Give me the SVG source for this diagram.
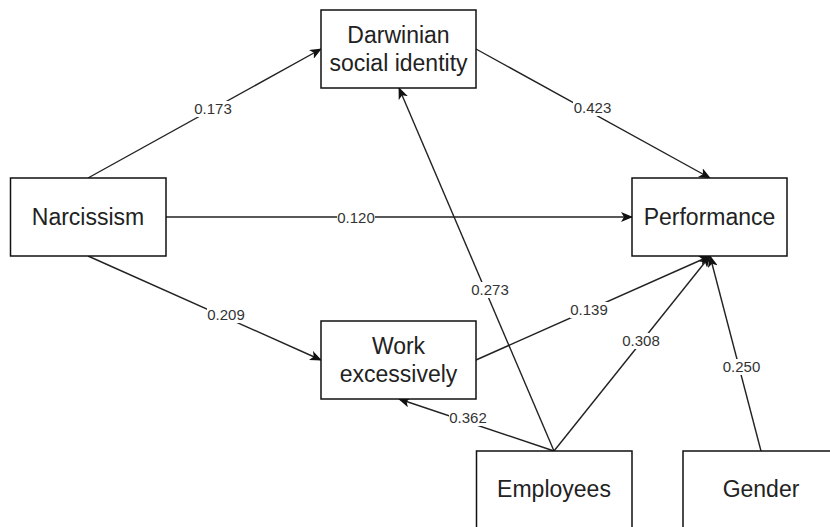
<svg xmlns="http://www.w3.org/2000/svg" width="830" height="527" viewBox="0 0 830 527">
<defs>
<style>
.box{fill:#fff;stroke:#111;stroke-width:1.5}
.nt{font-family:"Liberation Sans",Arial,sans-serif;font-size:23px;fill:#222;text-anchor:middle}
.e{stroke:#222;stroke-width:1.4;fill:none}
.lbl{font-family:"Liberation Sans",Arial,sans-serif;font-size:15px;fill:#333;text-anchor:middle}
.bg{fill:#fff}
</style>
<marker id="ah" viewBox="0 0 12 10" refX="11" refY="5" markerWidth="12" markerHeight="10" markerUnits="userSpaceOnUse" orient="auto">
<path d="M0,0 L12,5 L0,10 L3,5 Z" fill="#111"/>
</marker>
</defs>
<rect width="830" height="527" fill="#fff"/>
<g id="connectors">
<line class="e" x1="88" y1="178" x2="321" y2="49" marker-end="url(#ah)"/>
<line class="e" x1="166" y1="217" x2="632" y2="217" marker-end="url(#ah)"/>
<line class="e" x1="88" y1="256" x2="321" y2="360" marker-end="url(#ah)"/>
<line class="e" x1="476" y1="49" x2="710" y2="178" marker-end="url(#ah)"/>
<line class="e" x1="476" y1="360" x2="710" y2="256" marker-end="url(#ah)"/>
<line class="e" x1="554" y1="451" x2="399" y2="88" marker-end="url(#ah)"/>
<line class="e" x1="554" y1="451" x2="710" y2="256" marker-end="url(#ah)"/>
<line class="e" x1="554" y1="451" x2="399" y2="399" marker-end="url(#ah)"/>
<line class="e" x1="761" y1="451" x2="710" y2="256" marker-end="url(#ah)"/>
<rect class="bg" x="194" y="101" width="38" height="16"/>
<text class="lbl" x="213" y="114">0.173</text>
<rect class="bg" x="337" y="210" width="38" height="16"/>
<text class="lbl" x="356" y="223">0.120</text>
<rect class="bg" x="207" y="307" width="38" height="16"/>
<text class="lbl" x="226" y="320">0.209</text>
<rect class="bg" x="573" y="100" width="39" height="16"/>
<text class="lbl" x="592.5" y="113">0.423</text>
<rect class="bg" x="570" y="302" width="38" height="16"/>
<text class="lbl" x="589" y="315">0.139</text>
<rect class="bg" x="471" y="282" width="38" height="16"/>
<text class="lbl" x="490" y="295">0.273</text>
<rect class="bg" x="622" y="333" width="38" height="16"/>
<text class="lbl" x="641" y="346">0.308</text>
<rect class="bg" x="449" y="410" width="38" height="16"/>
<text class="lbl" x="468" y="423">0.362</text>
<rect class="bg" x="722" y="359" width="39" height="16"/>
<text class="lbl" x="741.5" y="372">0.250</text>
</g>
<g id="darwinian">
<rect class="box" x="321" y="10" width="155" height="78"/>
<text class="nt" x="398.5" y="43">Darwinian</text>
<text class="nt" x="398.5" y="71">social identity</text>
</g>
<g id="narcissism">
<rect class="box" x="10.5" y="178" width="155.5" height="78"/>
<text class="nt" x="88" y="225">Narcissism</text>
</g>
<g id="performance">
<rect class="box" x="632" y="178" width="155" height="78"/>
<text class="nt" x="709.5" y="225">Performance</text>
</g>
<g id="work">
<rect class="box" x="321" y="321" width="155" height="78"/>
<text class="nt" x="398.5" y="354">Work</text>
<text class="nt" x="398.5" y="382">excessively</text>
</g>
<g id="employees">
<rect class="box" x="476.5" y="451" width="155.5" height="80"/>
<text class="nt" x="554" y="497">Employees</text>
</g>
<g id="gender">
<rect class="box" x="683" y="451" width="156" height="80"/>
<text class="nt" x="761" y="497">Gender</text>
</g>
</svg>
